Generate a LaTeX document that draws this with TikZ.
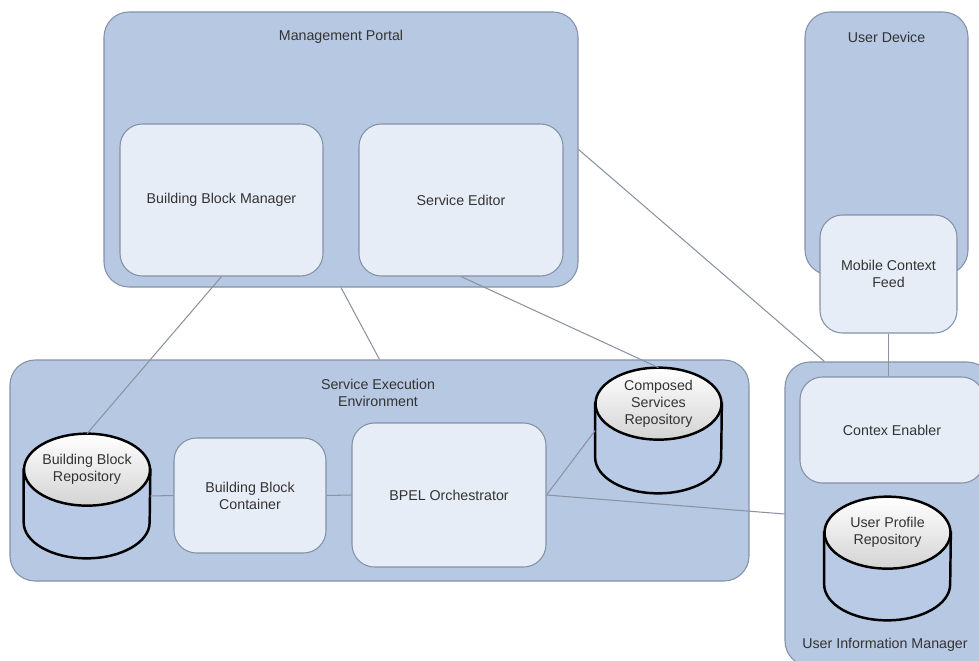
\documentclass[tikz,border=0pt]{standalone}
\usepackage{fontspec}
\setmainfont{Liberation Sans}
\usetikzlibrary{calc}

\definecolor{outerblue}{HTML}{B7C8E2}
\definecolor{innerblue}{HTML}{E7EDF7}
\definecolor{boxedge}{HTML}{8391A6}
\definecolor{linkgray}{HTML}{8A93A2}
\definecolor{textgray}{HTML}{333333}
\definecolor{cylside}{HTML}{B9CAE6}

\def\u{0.02cm}
\def\rx{63}
\def\ry{36}

\tikzset{
  container/.style={draw=boxedge, fill=outerblue, line width=0.6pt, rounded corners=0.5cm, inner sep=0},
  unit/.style={draw=boxedge, fill=innerblue, line width=0.6pt, rounded corners=0.45cm, inner sep=0,
               align=center, text=textgray, font=\fontsize{8.1}{9.7}\selectfont},
  title/.style={align=center, text=textgray, font=\fontsize{8.1}{9.7}\selectfont},
  repo/.style={minimum width=2*\rx*\u, minimum height=124*\u, inner sep=0},
  cylline/.style={draw=black, line width=1.4pt},
  link/.style={draw=linkgray, line width=0.6pt}
}

% cylinder drawn round an empty node, text in the top face
\newcommand{\repository}[2]{%
  \draw[cylline, left color=cylside, middle color=innerblue!70!white, right color=cylside]
    ($(#1.north west)+(0,-\ry)$) -- ($(#1.south west)+(0,\ry)$)
    arc[start angle=180, end angle=360, x radius=\rx, y radius=\ry]
    -- ($(#1.north east)+(0,-\ry)$) -- cycle;
  \draw[cylline, top color=white, bottom color=black!17]
    ($(#1.north)+(0,-\ry)$) ellipse[x radius=\rx, y radius=\ry];
  \node[title] (#1-text) at ($(#1.north)+(0,-\ry)$) {#2};
}

\begin{document}
\begin{tikzpicture}[x=\u, y=\u]
  \useasboundingbox (0,0) rectangle (979,660);

  % containers
  \node[container, minimum width=474*\u, minimum height=275*\u] (mp) at (341,510.5) {};
  \node[container, minimum width=163*\u, minimum height=263*\u] (ud) at (886.5,516.5) {};
  \node[container, minimum width=739*\u, minimum height=221*\u] (see) at (379.5,189.5) {};
  \node[container, minimum width=207*\u, minimum height=304*\u] (uim) at (888.5,146) {};

  \node[title] (mp-title) at (341,623) {Management Portal};
  \node[title] (ud-title) at (886.5,623) {User Device};
  \node[title] (see-title) at (378,267) {Service Execution\\Environment};
  \node[title] (uim-title) at (885,15) {User Information Manager};

  % links
  \draw[link] (mp.south) -- (see.north);
  \draw[link] (mp.east) -- ($(uim.north west)+(40,0)$);

  % inner units
  \node[unit, minimum width=203*\u, minimum height=152*\u] (bbm) at (221.5,460) {Building Block Manager};
  \node[unit, minimum width=204*\u, minimum height=152*\u] (se) at (461,460) {Service Editor};
  \node[unit, minimum width=137*\u, minimum height=118*\u] (mcf) at (888.5,386) {Mobile Context\\Feed};
  \node[unit, minimum width=152*\u, minimum height=115*\u] (bbc) at (250,164.5) {Building Block\\Container};
  \node[unit, minimum width=194*\u, minimum height=144*\u] (bpel) at (449,165) {BPEL Orchestrator};
  \node[unit, minimum width=184*\u, minimum height=106*\u] (ce) at (892,230) {Contex Enabler};

  % repositories
  \node[repo] (bbrep) at (87,164) {};
  \node[repo, minimum height=125*\u] (csrep) at (658.5,229.5) {};
  \node[repo, minimum height=123*\u] (uprep) at (887.5,101.5) {};
  \repository{bbrep}{Building Block\\Repository}
  \repository{csrep}{Composed\\Services\\Repository}
  \repository{uprep}{User Profile\\Repository}

  \draw[link] (bbm.south) -- (bbrep.north);
  \draw[link] (se.south) -- (csrep.north);
  \draw[link] (mcf.south) -- (mcf.south |- ce.north);
  \draw[link] (bbrep.east) -- (bbc.west);
  \draw[link] (bbc.east) -- (bpel.west);
  \draw[link] (bpel.east) -- (csrep.west);
  \draw[link] (bpel.east) -- (uim.west);
\end{tikzpicture}
\end{document}
